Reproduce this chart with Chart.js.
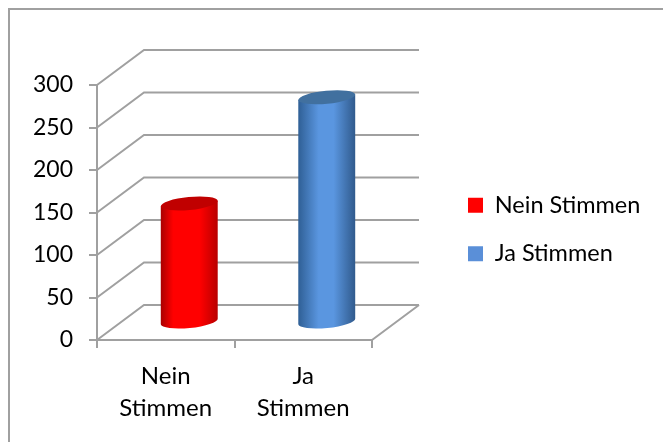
<!DOCTYPE html>
<html>
<head>
<meta charset="utf-8">
<title>Stimmen</title>
<script src="https://cdn.jsdelivr.net/npm/chart.js@4"></script>
<style>
  html, body { margin: 0; padding: 0; background: #fff; }
  #wrap { position: relative; width: 663px; height: 442px; }
  #frame { position: absolute; left: 8px; top: 8px; right: 0; bottom: 0; border-left: 2px solid #a0a0a0; border-top: 2px solid #a0a0a0; }
  canvas { position: absolute; left: 0; top: 0; }
</style>
</head>
<body>
<div id="wrap">
  <div id="frame"></div>
  <canvas id="chart" width="663" height="442"></canvas>
</div>
<script>
const categories = ['Nein Stimmen', 'Ja Stimmen'];
const tickLabels = [['Nein', 'Stimmen'], ['Ja', 'Stimmen']];
const stimmen = [140, 265];
const legendColors = ['#ff0000', '#5a8fd8'];
const sideColors = [
  ['#a80000', '#ff0000', '#ff0000', '#b80000'],
  ['#2f5f95', '#5a96e0', '#5a96e0', '#305a8c']
];
const sideStops = [[0, 0.22, 0.68, 1], [0, 0.36, 0.62, 1]];
const topColors = ['#c00000', '#41709f'];

// 3d look: back wall offset and bar offset
const depthX = 47, depthY = -35;
const gridColor = '#a0a0a0';
const legendLeft = 468, legendShift = -34;

const frame3d = {
  id: 'frame3d',
  afterLayout(chart) {
    // the legend sits away from the plot in the original
    const lg = chart.legend;
    lg.left = legendLeft - lg.options.labels.padding;
    lg.right = 663;
    lg.top += legendShift;
    lg.bottom += legendShift;
  },
  beforeDatasetsDraw(chart) {
    const { ctx, scales: { y }, chartArea: a } = chart;
    ctx.save();
    ctx.strokeStyle = gridColor;
    ctx.lineWidth = 2;
    ctx.beginPath();
    y.ticks.forEach(t => {
      const py = y.getPixelForValue(t.value);
      ctx.moveTo(a.left, py);
      ctx.lineTo(a.left + depthX, py + depthY);
      ctx.lineTo(a.right + depthX, py + depthY);
    });
    ctx.moveTo(a.right, a.bottom);
    ctx.lineTo(a.right + depthX, a.bottom + depthY);
    ctx.stroke();
    ctx.restore();
  },
  afterDatasetsDraw(chart) {
    const { ctx } = chart;
    const tilt = -0.1, ry = 6.5;
    chart.getDatasetMeta(0).data.forEach((bar, i) => {
      const cx = bar.x + depthX / 2;
      const top = bar.y + depthY / 2;
      const base = bar.base + depthY / 2;
      const rx = bar.width / 2;
      const dx = rx * Math.cos(tilt), dy = rx * Math.sin(tilt);
      const g = ctx.createLinearGradient(cx - rx, 0, cx + rx, 0);
      sideColors[i].forEach((c, k) => g.addColorStop(sideStops[i][k], c));
      ctx.save();
      ctx.fillStyle = g;
      ctx.beginPath();
      ctx.moveTo(cx - dx, top - dy);
      ctx.lineTo(cx - dx, base - dy);
      ctx.ellipse(cx, base, rx, ry, tilt, Math.PI, 0, true);
      ctx.lineTo(cx + dx, top + dy);
      ctx.closePath();
      ctx.fill();
      ctx.fillStyle = topColors[i];
      ctx.beginPath();
      ctx.ellipse(cx, top, rx, ry, tilt, 0, Math.PI * 2);
      ctx.fill();
      ctx.restore();
    });
  }
};

new Chart(document.getElementById('chart'), {
  type: 'bar',
  data: {
    labels: tickLabels,
    datasets: [{
      data: stimmen,
      backgroundColor: 'rgba(0,0,0,0)',
      barPercentage: 1,
      categoryPercentage: 0.416
    }]
  },
  options: {
    responsive: false,
    animation: false,
    layout: { padding: { top: 85, right: 167, bottom: 0, left: 0 } },
    scales: {
      x: {
        afterFit(s) { s.height = 102; },
        grid: { drawOnChartArea: false, color: gridColor, lineWidth: 2, tickLength: 8, offset: true },
        border: { color: gridColor, width: 2 },
        ticks: { color: '#000', font: { family: 'Lato', size: 24, lineHeight: 1.33 }, padding: 12, maxRotation: 0 }
      },
      y: {
        min: 0,
        max: 300,
        afterFit(s) { s.width = 97; },
        grid: { drawOnChartArea: false, color: gridColor, lineWidth: 2, tickLength: 8 },
        border: { color: gridColor, width: 2 },
        ticks: { color: '#000', stepSize: 50, font: { family: 'Lato', size: 23 }, padding: 16 }
      }
    },
    plugins: {
      tooltip: { enabled: false },
      legend: {
        position: 'right',
        labels: {
          color: '#000',
          font: { family: 'Lato', size: 23.5 },
          boxWidth: 15,
          boxHeight: 15,
          padding: 25,
          generateLabels: () => categories.map((c, i) => ({
            text: c, fillStyle: legendColors[i], strokeStyle: legendColors[i], lineWidth: 0, index: i
          }))
        }
      }
    }
  },
  plugins: [frame3d]
});
</script>
</body>
</html>
